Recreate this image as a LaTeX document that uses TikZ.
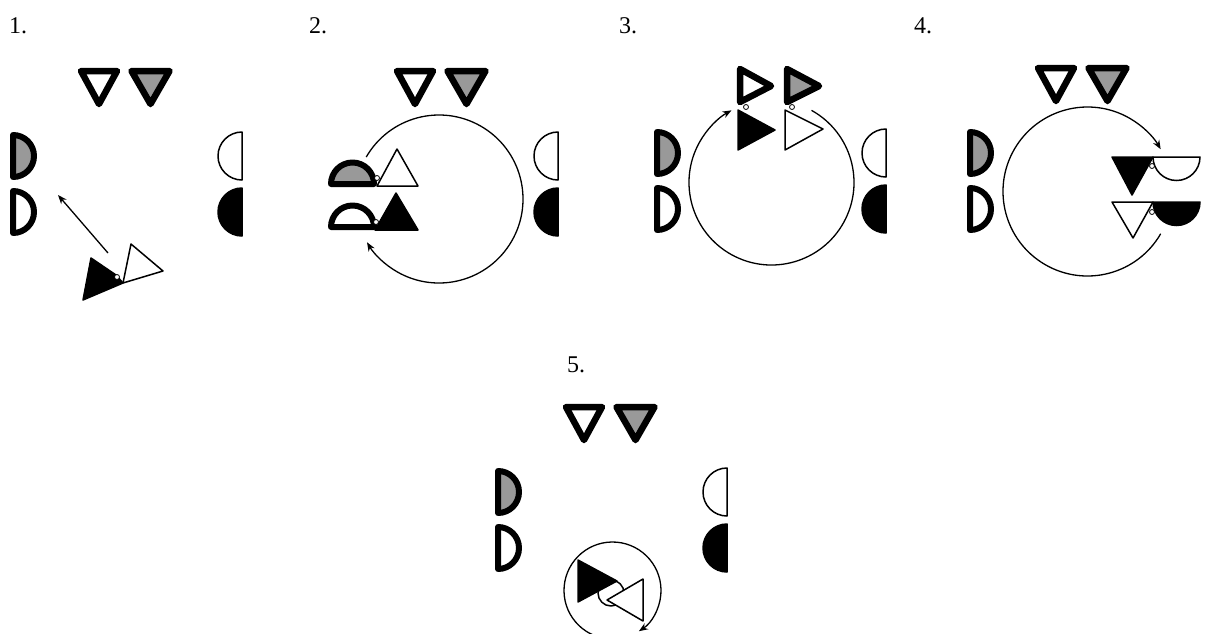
\documentclass[tikz,border=0pt]{standalone}
\usepackage{fontspec}
\setmainfont{Liberation Serif}
\usetikzlibrary{arrows.meta}
\newcommand\TopTris{%
  \draw[heavy,fill=white] (81,71) -- (117,71) -- (99,104) -- cycle;
  \draw[heavy,shade] (131.5,71) -- (169.5,71) -- (150.5,104) -- cycle;}
\newcommand\LeftDs{%
  \draw[heavyD,shade] (13,135) arc[start angle=-90,end angle=90,radius=21] -- cycle;
  \draw[heavyD,fill=white] (13,191) arc[start angle=-90,end angle=90,radius=21] -- cycle;}
\newcommand\RightDs{%
  \draw[light,fill=white] (242,132) arc[start angle=-90,end angle=-270,radius=24] -- cycle;
  \draw[light,fill=black] (242,188) arc[start angle=-90,end angle=-270,radius=24] -- cycle;}
\begin{document}
\begin{tikzpicture}[x=1pt,y=-1pt,
  heavy/.style={line width=6.5pt,line join=round,draw=black},
  heavyD/.style={line width=6pt,line join=round,draw=black},
  light/.style={line width=1.5pt,line join=round,draw=black},
  shade/.style={fill=black!40},
  cyc/.style={line width=1.3pt,-{Stealth[length=9pt,width=7pt]}},
  lab/.style={font=\fontsize{24}{26}\selectfont,anchor=base west,inner sep=0pt},
  knot/.style={circle,draw,fill=white,line width=0.8pt,inner sep=0pt,minimum size=5pt}]
\useasboundingbox (0,0) rectangle (1211,633);
\clip (0,0) rectangle (1211,633);

% labels
\node[lab] (l1) at (9,33) {1.};
\node[lab] (l2) at (309,33) {2.};
\node[lab] (l3) at (619,33) {3.};
\node[lab] (l4) at (914,33) {4.};
\node[lab] (l5) at (567,372) {5.};

% ---------- panel 1 ----------
\TopTris
\LeftDs
\RightDs
\coordinate (a1s) at (108,253);
\coordinate (a1e) at (58,195);
\draw[cyc] (a1s) -- (a1e);
\draw[light,fill=black] (91,258) -- (116,275) -- (123,283) -- (83,300) -- cycle;
\draw[light,fill=white] (131,244) -- (163,271) -- (123,283) -- cycle;
\node[knot] (k1) at (117,277) {};

% ---------- panel 2 ----------
\begin{scope}[shift={(316,0)}]
\TopTris
\RightDs
\end{scope}
\coordinate (c2) at (439,199);
\draw[cyc] (c2) ++(210:84) arc[start angle=210,end angle=509,radius=84];
\draw[heavyD,shade] (331,184) arc[start angle=180,end angle=360,radius=21.5] -- cycle;
\draw[light,fill=white] (377,186) -- (397,149) -- (418,186) -- cycle;
\node[knot] (k2a) at (377,178) {};
\draw[heavyD,fill=white] (331,227) arc[start angle=180,end angle=360,radius=21.5] -- cycle;
\draw[light,fill=black] (375,230) -- (396,193) -- (418,230) -- cycle;
\node[knot] (k2b) at (376,222) {};

% ---------- panel 3 ----------
\begin{scope}[shift={(644,-3)}]
\LeftDs
\RightDs
\end{scope}
\coordinate (c3) at (771.5,182.5);
\draw[cyc] (c3) ++(-61:82.5) arc[start angle=-61,end angle=241,radius=82.5];
\draw[heavy,fill=white] (740,69) -- (771,86) -- (740,102) -- cycle;
\draw[light,fill=black] (738,110) -- (775,130) -- (738,150) -- cycle;
\node[knot] (k3a) at (746,107) {};
\draw[heavy,shade] (787,69) -- (819,86) -- (787,102) -- cycle;
\draw[light,fill=white] (785,110) -- (823,129) -- (785,150) -- cycle;
\node[knot] (k3b) at (792,107) {};

% ---------- panel 4 ----------
\begin{scope}[shift={(957,-3)}]
\TopTris
\LeftDs
\end{scope}
\coordinate (c4) at (1087.5,191.5);
\draw[cyc] (c4) ++(30:84.5) arc[start angle=30,end angle=330,radius=84.5];
\draw[light,fill=white] (1153,157) arc[start angle=180,end angle=0,radius=23.5] -- cycle;
\draw[light,fill=black] (1112,157) -- (1153,157) -- (1132,195) -- cycle;
\node[knot] (k4a) at (1152,166) {};
\draw[light,fill=black] (1153,202) arc[start angle=180,end angle=0,radius=23.5] -- cycle;
\draw[light,fill=white] (1112,202) -- (1153,202) -- (1133,238) -- cycle;
\node[knot] (k4b) at (1152,212) {};

% ---------- panel 5 ----------
\begin{scope}[shift={(485,336)}]
\TopTris
\LeftDs
\RightDs
\end{scope}
\coordinate (c5) at (612.5,590.5);
\draw[cyc] (c5) ++(95:48.5) arc[start angle=95,end angle=417,radius=48.5];
\draw[light,fill=white] (611,593) circle[radius=13];
\draw[light,fill=black] (578,560) -- (617,581) -- (578,602) -- cycle;
\draw[light,fill=white] (643,579) -- (643,621) -- (607,600) -- cycle;
\end{tikzpicture}
\end{document}
